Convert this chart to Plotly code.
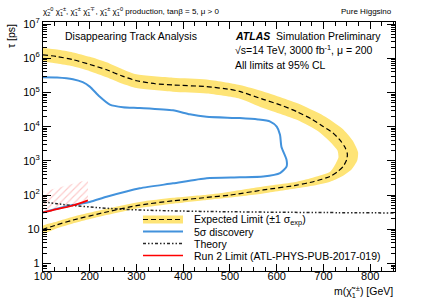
import plotly.graph_objects as go

# ---------------- data (mass in GeV, lifetime tau in ps) ----------------
# Expected limit (dashed) contour, from top-left, round the nose, to bottom-left
exp_m   = [100, 130, 164, 200, 236, 270, 300, 340, 378, 450, 500, 521, 571, 610, 643, 675, 700,
           720, 735, 746, 751, 750, 742, 730, 714, 680, 643, 571, 500, 450, 378, 307, 236, 164, 130, 100]
exp_tau = [1.26e6, 1.12e6, 9.1e5, 6.6e5, 4.6e5, 3.0e5, 2.2e5, 1.8e5, 1.66e5, 1.48e5, 1.23e5, 1.07e5,
           6.3e4, 4.2e4, 2.75e4, 1.66e4, 1.0e4, 6.6e3, 4.1e3, 2.5e3, 1.6e3, 1.12e3, 680, 480, 350, 250,
           195, 141, 100, 85, 68, 51, 32, 18.6, 13.5, 10]

# +-1 sigma band: outer edge and inner edge of the contour
band_out_m   = [100, 130, 164, 200, 236, 270, 300, 378, 450, 521, 571, 643, 700, 740, 762, 774, 772,
                760, 740, 714, 680, 643, 571, 500, 450, 378, 307, 236, 164, 130, 100]
band_out_tau = [2.0e6, 1.8e6, 1.48e6, 1.1e6, 7.6e5, 4.8e5, 3.4e5, 2.7e5, 2.4e5, 1.66e5, 1.07e5, 4.9e4,
                2.1e4, 8.9e3, 4.0e3, 1.78e3, 1.0e3, 560, 355, 245, 190, 158, 112, 85, 72, 56, 42, 26,
                14.8, 10.7, 7.6]
band_in_m   = [100, 130, 164, 200, 236, 270, 300, 378, 450, 521, 571, 643, 690, 715, 730, 732, 726,
               714, 680, 643, 571, 500, 450, 378, 307, 236, 164, 130, 100]
band_in_tau = [7.9e5, 7.0e5, 5.8e5, 4.2e5, 2.8e5, 1.8e5, 1.35e5, 1.05e5, 9.3e4, 6.6e4, 3.5e4, 1.58e4,
               7.1e3, 3.5e3, 2.0e3, 1.26e3, 830, 480, 330, 245, 178, 126, 102, 83, 63, 40, 23.4, 17, 12.6]

# 5 sigma discovery contour
disc_m   = [100, 130, 164, 185, 200, 221, 243, 271, 307, 378, 414, 450, 521, 560, 586, 600, 607, 610,
            621, 621, 607, 571, 521, 450, 378, 307, 236, 200, 164, 130, 100]
disc_tau = [2.8e5, 2.75e5, 2.45e5, 2.0e5, 1.48e5, 7.6e4, 4.4e4, 3.7e4, 3.5e4, 3.0e4, 2.3e4, 1.95e4,
            1.78e4, 1.62e4, 1.41e4, 1.0e4, 5.8e3, 2.6e3, 1.07e3, 680, 440, 350, 330, 310, 220, 158,
            89, 63, 51, 40, 31]

# Theory lifetime
th_m   = [100, 130, 160, 200, 250, 300, 400, 500, 600, 700, 853]
th_tau = [63, 56, 50, 45, 40, 37, 34, 32.5, 31.5, 30.8, 30]

# Run 2 limit and its excluded (hatched) side
r2_m   = [100, 130, 160, 196]
r2_tau = [31, 39, 48, 70]
r2_hatch_top_m   = [196, 100]
r2_hatch_top_tau = [280, 126]

# axis ticks
x_ticks = [100, 200, 300, 400, 500, 600, 700, 800]
y_ticks = [1, 10, 100, 1e3, 1e4, 1e5, 1e6, 1e7]
y_ticktext = ["1", "10", "10<sup>2</sup>", "10<sup>3</sup>", "10<sup>4</sup>",
              "10<sup>5</sup>", "10<sup>6</sup>", "10<sup>7</sup>"]

# ---------------- style ----------------
YEL = "rgb(254,228,118)"
BLUE = "rgb(66,146,220)"
RED = "rgb(255,0,0)"
FONT = "Liberation Sans, Arial, Helvetica, sans-serif"
THEORY_DASH = "3px,2px,1.5px,2px,1.5px,2px"

W, H = 425, 305
L, R, T, B = 43, 30, 22, 34
PW, PH = W - L - R, H - T - B


def px(xp):
    return (xp - L) / PW


def py(yp):
    return (H - B - yp) / PH


fig = go.Figure()

# yellow band polygon: outer edge then inner edge reversed
fig.add_trace(go.Scatter(
    x=band_out_m + band_in_m[::-1], y=band_out_tau + band_in_tau[::-1],
    mode="lines", fill="toself", fillcolor=YEL,
    line=dict(width=0, color=YEL, shape="spline", smoothing=0.6),
    hoverinfo="skip", showlegend=False))

# hatched Run-2 excluded region
fig.add_trace(go.Scatter(
    x=r2_m + r2_hatch_top_m, y=r2_tau + r2_hatch_top_tau,
    mode="lines", fill="toself", line=dict(width=0, color="rgba(0,0,0,0)"),
    fillcolor="rgba(0,0,0,0)",
    fillpattern=dict(shape="/", fgcolor="rgba(250,110,110,0.75)", bgcolor="rgba(255,255,255,0)",
                     size=5, solidity=0.22),
    hoverinfo="skip", showlegend=False))

# 5 sigma
fig.add_trace(go.Scatter(x=disc_m, y=disc_tau, mode="lines",
                         line=dict(color=BLUE, width=2, shape="spline", smoothing=0.6),
                         showlegend=False))
# theory
fig.add_trace(go.Scatter(x=th_m, y=th_tau, mode="lines",
                         line=dict(color="rgb(40,40,40)", width=1.5, dash=THEORY_DASH, shape="spline"),
                         showlegend=False))
# Run 2
fig.add_trace(go.Scatter(x=r2_m, y=r2_tau, mode="lines",
                         line=dict(color=RED, width=1.7, shape="spline"), showlegend=False))
# expected
fig.add_trace(go.Scatter(x=exp_m, y=exp_tau, mode="lines",
                         line=dict(color="black", width=1.2, dash="5px,3px", shape="spline", smoothing=0.6),
                         showlegend=False))

# ---------------- manual legend ----------------
shapes = []
leg_x0, leg_x1, leg_tx = 143, 183, 192
leg_y = [219.5, 231.5, 243.5, 255.5]
shapes.append(dict(type="rect", xref="paper", yref="paper", x0=px(leg_x0), x1=px(leg_x1),
                   y0=py(leg_y[0] + 4), y1=py(leg_y[0] - 4), fillcolor=YEL, line=dict(width=0)))
shapes.append(dict(type="line", xref="paper", yref="paper", x0=px(leg_x0), x1=px(leg_x1),
                   y0=py(leg_y[0]), y1=py(leg_y[0]), line=dict(color="black", width=1.2, dash="5px,3px")))
shapes.append(dict(type="line", xref="paper", yref="paper", x0=px(leg_x0), x1=px(leg_x1),
                   y0=py(leg_y[1]), y1=py(leg_y[1]), line=dict(color=BLUE, width=2)))
shapes.append(dict(type="line", xref="paper", yref="paper", x0=px(leg_x0), x1=px(leg_x1),
                   y0=py(leg_y[2]), y1=py(leg_y[2]),
                   line=dict(color="rgb(40,40,40)", width=1.5, dash=THEORY_DASH)))
shapes.append(dict(type="line", xref="paper", yref="paper", x0=px(leg_x0), x1=px(leg_x1),
                   y0=py(leg_y[3]), y1=py(leg_y[3]), line=dict(color=RED, width=1.7)))

leg_text = ["Expected Limit (±1 σ<sub>exp</sub>)", "5σ discovery", "Theory",
            "Run 2 Limit (ATL-PHYS-PUB-2017-019)"]

ann = []
for yy, tx in zip(leg_y, leg_text):
    ann.append(dict(xref="paper", yref="paper", x=px(leg_tx), y=py(yy), text=tx, showarrow=False,
                    xanchor="left", yanchor="middle", font=dict(size=10.5, family=FONT, color="black")))

ann += [
    dict(xref="paper", yref="paper", x=px(63), y=py(35.5), text="Disappearing Track Analysis",
         showarrow=False, xanchor="left", yanchor="middle", font=dict(size=10.5, family=FONT)),
    dict(xref="paper", yref="paper", x=px(233), y=py(35.5),
         text="<b><i>ATLAS</i></b>  Simulation Preliminary",
         showarrow=False, xanchor="left", yanchor="middle", font=dict(size=10.5, family=FONT)),
    dict(xref="paper", yref="paper", x=px(233), y=py(50),
         text="√s=14 TeV, 3000 fb<sup>-1</sup>, μ = 200",
         showarrow=False, xanchor="left", yanchor="middle", font=dict(size=10.5, family=FONT)),
    dict(xref="paper", yref="paper", x=px(233), y=py(64.5), text="All limits at 95% CL",
         showarrow=False, xanchor="left", yanchor="middle", font=dict(size=10.5, family=FONT)),
    dict(xref="paper", yref="paper", x=px(41), y=py(11.5),
         text="χ̃<sub>2</sub><sup>0</sup> χ̃<sub>1</sub><sup>±</sup>, χ̃<sub>1</sub><sup>±</sup> "
              "χ̃<sub>1</sub><sup>∓</sup>, χ̃<sub>1</sub><sup>±</sup> χ̃<sub>1</sub><sup>0</sup>"
              " production, tanβ = 5, μ > 0",
         showarrow=False, xanchor="left", yanchor="middle", font=dict(size=8, family=FONT)),
    dict(xref="paper", yref="paper", x=px(394), y=py(11.5), text="Pure Higgsino",
         showarrow=False, xanchor="right", yanchor="middle", font=dict(size=8, family=FONT)),
    dict(xref="paper", yref="paper", x=px(395), y=py(292), text="m(χ̃<sub>1</sub><sup>±</sup>) [GeV]",
         showarrow=False, xanchor="right", yanchor="middle", font=dict(size=10.5, family=FONT)),
    dict(xref="paper", yref="paper", x=px(11), y=py(22), text="τ [ps]", textangle=-90,
         showarrow=False, xanchor="center", yanchor="top", font=dict(size=10.5, family=FONT)),
]

fig.update_layout(
    width=W, height=H, margin=dict(l=L, r=R, t=T, b=B),
    paper_bgcolor="white", plot_bgcolor="white",
    font=dict(family=FONT, size=11, color="black"),
    showlegend=False, shapes=shapes, annotations=ann,
)
fig.update_xaxes(range=[100, 853], tickvals=x_ticks, ticks="inside", ticklen=7, tickwidth=1,
                 tickcolor="black", showline=True, linecolor="black", linewidth=1.2, mirror="allticks",
                 showgrid=False, zeroline=False, tickfont=dict(size=11), ticklabelstandoff=-5,
                 minor=dict(dtick=25, tick0=100, ticks="inside", ticklen=3.5, tickcolor="black", showgrid=False))
fig.update_yaxes(type="log", range=[-0.22, 7.06], tickvals=y_ticks, ticktext=y_ticktext,
                 ticks="inside", ticklen=8, tickwidth=1, tickcolor="black",
                 showline=True, linecolor="black", linewidth=1.2, mirror="allticks",
                 showgrid=False, zeroline=False, tickfont=dict(size=11),
                 minor=dict(dtick="D1", ticks="inside", ticklen=4, tickcolor="black", showgrid=False))

fig.write_html("out.html", config={"displayModeBar": False},
               post_script="document.body.style.margin='0px';")
